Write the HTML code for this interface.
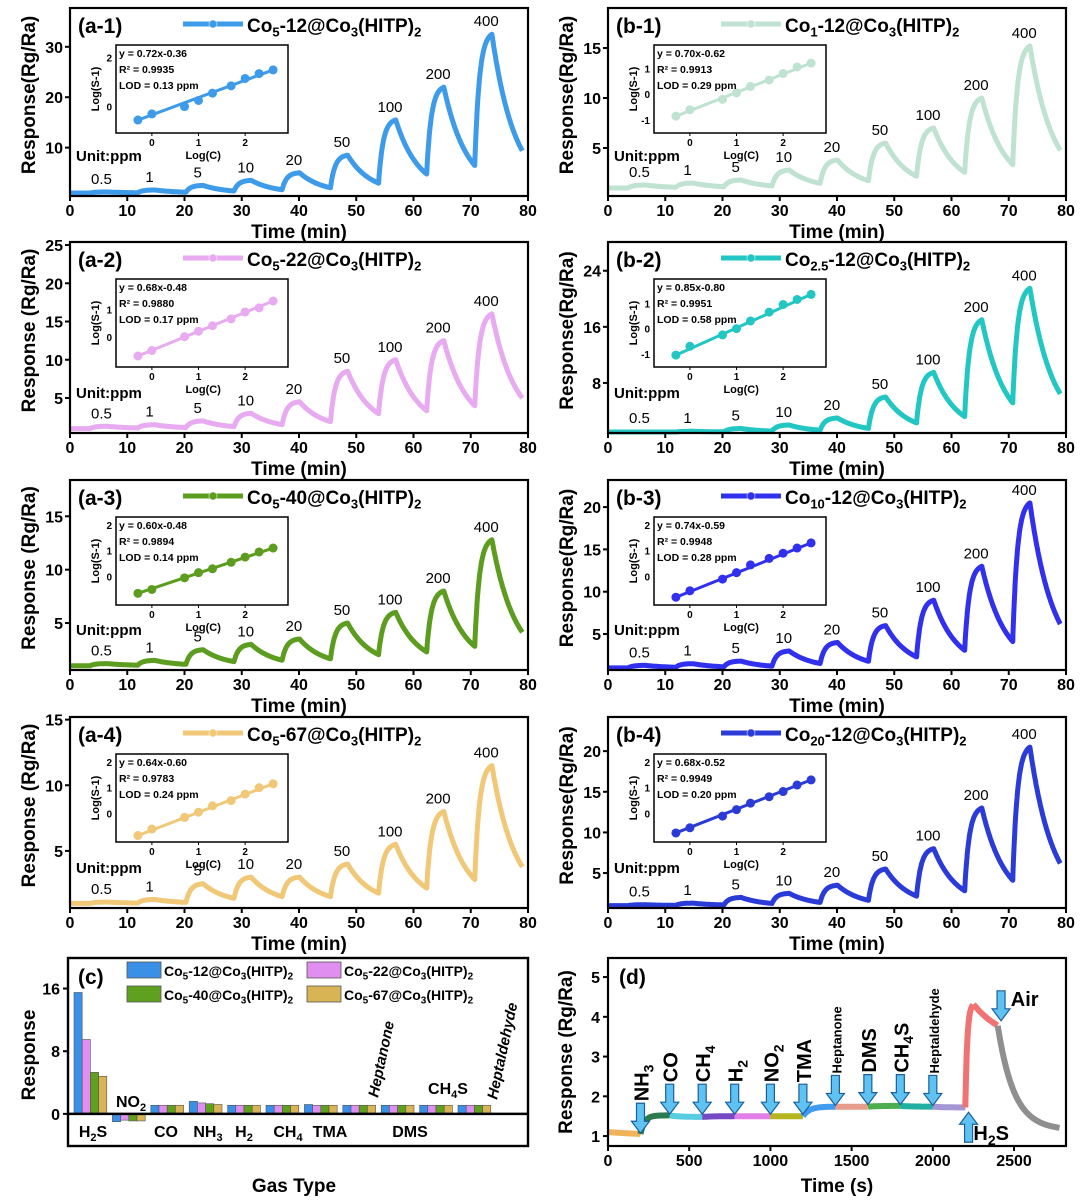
<!DOCTYPE html>
<html><head><meta charset="utf-8"><style>
html,body{margin:0;padding:0;background:#fff}
svg{display:block}
text{font-family:"Liberation Sans",Arial,sans-serif;font-weight:bold;fill:#000}
</style></head>
<body>
<svg id="fig" width="1080" height="1200" viewBox="0 0 1080 1200" xmlns="http://www.w3.org/2000/svg"></svg>
<script>
// ---------- data ----------
const concLabels = ["0.5","1","5","10","20","50","100","200","400"];
const logC = [-0.3, 0, 0.7, 1, 1.3, 1.7, 2, 2.3, 2.6];
const peaksA1 = [1.2,1.6,2.5,3.5,5,8.5,15.5,22,32.5];
const peaksB1 = [1.3,1.5,1.8,2.8,3.8,5.5,7,10,15.2];
const peaksA2 = [1.3,1.5,2,3,4.5,8.5,10,12.5,16];
const peaksB2 = [1.0,1.1,1.5,2,3,6,9.5,17,21.5];
const peaksA3 = [1.2,1.5,2.5,3,3.5,5,6,8,12.8];
const peaksB3 = [1.3,1.5,1.8,3,4,6,9,13,20.5];
const peaksA4 = [1.1,1.3,2.5,3,3,4,5.5,8,11.5];
const peaksB4 = [1.1,1.3,2,2.5,3.5,5.5,8,13,20.5];
const logSA1 = [-0.55,-0.3,0,0.25,0.55,0.85,1.15,1.35,1.5];
const logSB1 = [-0.85,-0.6,-0.2,0.05,0.3,0.55,0.8,1.05,1.2];
const logSA2 = [-0.7,-0.5,0,0.2,0.4,0.65,0.9,1.05,1.3];
const logSB2 = [-1.05,-0.7,-0.25,0,0.3,0.65,0.95,1.15,1.35];
const logSA3 = [-0.65,-0.5,-0.05,0.15,0.3,0.55,0.75,0.95,1.1];
const logSB3 = [-0.8,-0.55,-0.1,0.15,0.45,0.7,0.9,1.1,1.3];
const logSA4 = [-0.85,-0.6,-0.15,0.05,0.3,0.5,0.75,1.0,1.15];
const logSB4 = [-0.75,-0.55,-0.1,0.15,0.4,0.65,0.85,1.1,1.3];

const gasNames = ["H2S","NO2","CO","NH3","H2","CH4","TMA","Heptanone","DMS","CH4S","Heptaldehyde"];
const barCo12 = [15.5,-1.0,1.1,1.6,1.1,1.1,1.2,1.1,1.1,1.1,1.1];
const barCo22 = [9.5,-0.8,1.1,1.4,1.1,1.1,1.1,1.1,1.1,1.1,1.1];
const barCo40 = [5.3,-0.9,1.1,1.3,1.1,1.1,1.1,1.1,1.1,1.1,1.1];
const barCo67 = [4.8,-0.9,1.1,1.2,1.1,1.1,1.1,1.1,1.1,1.1,1.1];
const barTicks = [0,8,16];

const segNames = ["air","NH3","CO","CH4","H2","NO2","TMA","Heptanone","DMS","CH4S","Heptaldehyde","H2S","H2S-b","Air"];
const segStart = [0,200,380,580,780,1000,1200,1400,1600,1800,2000,2200,2250,2400];
const segTarget = [0.98,1.52,1.48,1.5,1.5,1.5,1.74,1.74,1.76,1.74,1.72,4.35,3.3,1.15];
const segTau = [400,25,60,60,60,60,40,60,60,60,60,12,200,100];
const dTicksX = [0,500,1000,1500,2000,2500];
const dTicksY = [1,2,3,4,5];
const arrowTimes = [200,380,580,780,1000,1200,1400,1600,1800,2000];
const arrowNames = ["NH3","CO","CH4","H2","NO2","TMA","Heptanone","DMS","CH4S","Heptaldehyde"];

// ---------- helpers ----------
const NS="http://www.w3.org/2000/svg";
const svg=document.getElementById('fig');
function el(tag,parent){const e=document.createElementNS(NS,tag);(parent||svg).appendChild(e);return e;}
function sa(e,o){for(const k in o)e.setAttribute(k,o[k]);return e;}
// rich text: parts [text, sub?]
function rich(e,str,subSize){
  // str uses _x_ for subscripts
  const re=/_([^_]+)_/g;let last=0,m;let shift=0;
  while((m=re.exec(str))){
    if(m.index>last){const t=el('tspan',e);t.textContent=str.slice(last,m.index);if(shift){t.setAttribute('dy',-shift);shift=0;}}
    const s=el('tspan',e);s.textContent=m[1];s.setAttribute('font-size',subSize);s.setAttribute('dy',subSize*0.35);shift=subSize*0.35;
    last=re.lastIndex;
  }
  if(last<str.length){const t=el('tspan',e);t.textContent=str.slice(last);if(shift)t.setAttribute('dy',-shift);}
}

// ---------- response panels ----------
const colA=[70,528], colB=[608,1066];
const rows=[[8,196],[242,433],[480,670],[717,908]];
const panels=[
 {id:'a-1',x:colA,y:rows[0],ymin:0.4,ymax:37.7,yt:[10,20,30],col:'#3d9be9',title:'Co_5_-12@Co_3_(HITP)_2_',peaks:peaksA1,ls:logSA1,eq:'y = 0.72x-0.36',r2:'0.9935',lod:'0.13',ir:[-1.08,2.52],it:[0,2],yl:'Response(Rg/Ra)'},
 {id:'b-1',x:colB,y:rows[0],ymin:0.2,ymax:19,yt:[5,10,15],col:'#bfe3d0',title:'Co_1_-12@Co_3_(HITP)_2_',peaks:peaksB1,ls:logSB1,eq:'y = 0.70x-0.62',r2:'0.9913',lod:'0.29',ir:[-1.5,1.9],it:[-1,0,1],yl:'Response(Rg/Ra)'},
 {id:'a-2',x:colA,y:rows[1],ymin:0.42,ymax:25.4,yt:[5,10,15,20,25],col:'#e8aaf0',title:'Co_5_-22@Co_3_(HITP)_2_',peaks:peaksA2,ls:logSA2,eq:'y = 0.68x-0.48',r2:'0.9880',lod:'0.17',ir:[-1.1,2.1],it:[0,1],yl:'Response (Rg/Ra)'},
 {id:'b-2',x:colB,y:rows[1],ymin:0.86,ymax:28.1,yt:[8,16,24],col:'#22c6c2',title:'Co_2.5_-12@Co_3_(HITP)_2_',peaks:peaksB2,ls:logSB2,eq:'y = 0.85x-0.80',r2:'0.9951',lod:'0.58',ir:[-1.52,1.96],it:[-1,0,1],yl:'Response(Rg/Ra)'},
 {id:'a-3',x:colA,y:rows[2],ymin:0.6,ymax:18.4,yt:[5,10,15],col:'#5c9d1f',title:'Co_5_-40@Co_3_(HITP)_2_',peaks:peaksA3,ls:logSA3,eq:'y = 0.60x-0.48',r2:'0.9894',lod:'0.14',ir:[-1.1,2.3],it:[0,1,2],yl:'Response (Rg/Ra)'},
 {id:'b-3',x:colB,y:rows[2],ymin:0.75,ymax:23.2,yt:[5,10,15,20],col:'#3030ee',title:'Co_10_-12@Co_3_(HITP)_2_',peaks:peaksB3,ls:logSB3,eq:'y = 0.74x-0.59',r2:'0.9948',lod:'0.28',ir:[-1.1,2.3],it:[0,1,2],yl:'Response(Rg/Ra)'},
 {id:'a-4',x:colA,y:rows[3],ymin:0.65,ymax:15.2,yt:[5,10,15],col:'#f0c878',title:'Co_5_-67@Co_3_(HITP)_2_',peaks:peaksA4,ls:logSA4,eq:'y = 0.64x-0.60',r2:'0.9783',lod:'0.24',ir:[-1.1,2.3],it:[0,1,2],yl:'Response (Rg/Ra)'},
 {id:'b-4',x:colB,y:rows[3],ymin:0.7,ymax:24.2,yt:[5,10,15,20],col:'#2b3bd8',title:'Co_20_-12@Co_3_(HITP)_2_',peaks:peaksB4,ls:logSB4,eq:'y = 0.68x-0.52',r2:'0.9949',lod:'0.20',ir:[-1.1,2.3],it:[0,1,2],yl:'Response(Rg/Ra)'}
];

function simulate(peaks){
  const pts=[];let v=1,t=0,dt=0.05,v0=1,cur=-1;
  for(t=0;t<=79;t+=dt){
    const i=Math.floor((t-3.5)/8.4);const ton=3.5+8.4*i;
    let target=1,tau=4;
    if(i>=0&&i<peaks.length&&t-ton<3){
      if(cur!==i){cur=i;v0=v;}
      target=v0+(peaks[i]-v0)/(1-Math.exp(-3/0.8));tau=0.8;
    }
    v+=(target-v)*(1-Math.exp(-dt/tau));
    pts.push([t,v]);
  }
  return pts;
}

panels.forEach(p=>{
  const g=el('g');
  
  
  const [x0,x1]=p.x,[y0,y1]=p.y;
  const X=t=>x0+t/80*(x1-x0);
  const Y=v=>y1-(v-p.ymin)/(p.ymax-p.ymin)*(y1-y0);
  // curve
  const pts=simulate(p.peaks);
  const line=el('polyline',g);
  
  
  sa(line,{points:pts.map(q=>X(q[0]).toFixed(1)+','+Y(q[1]).toFixed(1)).join(' '),fill:'none',stroke:p.col,'stroke-width':5,'stroke-linejoin':'round'});
  // frame
  const fr=el('rect',g);
  
  
  sa(fr,{x:x0,y:y0,width:x1-x0,height:y1-y0,fill:'none',stroke:'#000','stroke-width':2.2});
  // x ticks
  for(let t=0;t<=80;t+=10){
    const tk=el('line',g);sa(tk,{x1:X(t),x2:X(t),y1:y1,y2:y1+5,stroke:'#000','stroke-width':2});
    const lb=el('text',g);
    
    
    sa(lb,{x:X(t),y:y1+20,'text-anchor':'middle','font-size':16});lb.textContent=t;
  }
  const xt=el('text',g);
  
  
  sa(xt,{x:(x0+x1)/2,y:y1+42,'text-anchor':'middle','font-size':19});xt.textContent='Time (min)';
  // y ticks
  p.yt.forEach(v=>{
    const tk=el('line',g);sa(tk,{x1:x0-5,x2:x0,y1:Y(v),y2:Y(v),stroke:'#000','stroke-width':2});
    const lb=el('text',g);
    
    
    sa(lb,{x:x0-7,y:Y(v)+6,'text-anchor':'end','font-size':16});lb.textContent=v;
  });
  const yt=el('text',g);
  
  
  const cy=(y0+y1)/2;
  sa(yt,{x:x0-35,y:cy,'text-anchor':'middle','font-size':19,transform:`rotate(-90 ${x0-35} ${cy})`,dy:0});
  yt.setAttribute('x',x0-35);yt.setAttribute('y',cy+7);yt.setAttribute('transform',`rotate(-90 ${x0-42} ${cy})`);
  yt.textContent=p.yl;
  // panel label
  const pl=el('text',g);
  
  
  sa(pl,{x:x0+8,y:y0+25,'font-size':21});pl.textContent='('+p.id+')';
  // legend
  const lg=el('line',g);
  
  
  sa(lg,{x1:x0+113,x2:x0+173,y1:y0+16,y2:y0+16,stroke:p.col,'stroke-width':5});
  const lm=el('circle',g);sa(lm,{cx:x0+143,cy:y0+16,r:4,fill:p.col,stroke:'#fff','stroke-opacity':0.5});
  const lt=el('text',g);
  
  
  sa(lt,{x:x0+177,y:y0+24,'font-size':19});rich(lt,p.title,13);
  // concentration labels
  p.peaks.forEach((pk,i)=>{
    const tc=3.5+8.4*i+2;
    const lb=el('text',g);
    
    
    sa(lb,{x:X(tc),y:Math.min(Y(pk)-8,y1-10),'text-anchor':'middle','font-size':15,'font-weight':'normal'});
    lb.style.fontWeight='normal';lb.textContent=concLabels[i];
  });
  const up=el('text',g);
  
  
  sa(up,{x:x0+6,y:y1-35,'font-size':15});up.textContent='Unit:ppm';
  // inset
  const ix0=x0+46,iy0=y0+37,iw=172,ih=88,ix1=ix0+iw,iy1=iy0+ih;
  const IX=v=>ix0+(v+0.77)/3.69*iw;
  const IY=v=>iy1-(v-p.ir[0])/(p.ir[1]-p.ir[0])*ih;
  const ib=el('rect',g);
  
  
  sa(ib,{x:ix0,y:iy0,width:iw,height:ih,fill:'#fff',stroke:'#000','stroke-width':1.5});
  const fit=el('line',g);
  
  
  const n=p.ls.length;
  sa(fit,{x1:IX(logC[0]),y1:IY(p.ls[0]),x2:IX(logC[n-1]),y2:IY(p.ls[n-1]),stroke:p.col,'stroke-width':3});
  logC.forEach((c,i)=>{
    const pt=el('circle',g);
    
    
    sa(pt,{cx:IX(c),cy:IY(p.ls[i]),r:4.5,fill:p.col});
  });
  [0,1,2].forEach(v=>{
    const tk=el('line',g);sa(tk,{x1:IX(v),x2:IX(v),y1:iy1,y2:iy1+3,stroke:'#000'});
    const lb=el('text',g);sa(lb,{x:IX(v),y:iy1+13,'text-anchor':'middle','font-size':10});lb.textContent=v;
  });
  p.it.forEach(v=>{
    const lb=el('text',g);sa(lb,{x:ix0-4,y:IY(v)+4,'text-anchor':'end','font-size':10});lb.textContent=v;
  });
  const ilx=el('text',g);
  
  
  sa(ilx,{x:IX(1.1),y:iy1+26,'text-anchor':'middle','font-size':11});ilx.textContent='Log(C)';
  const ily=el('text',g);
  
  
  const lyc=iy0+ih/2;
  sa(ily,{x:ix0-17,y:lyc,'text-anchor':'middle','font-size':11,transform:`rotate(-90 ${ix0-17} ${lyc})`});ily.textContent='Log(S-1)';
  [p.eq,'R² = '+p.r2,'LOD = '+p.lod+' ppm'].forEach((s,k)=>{
    const t=el('text',g);
    
    
    sa(t,{x:ix0+3,y:iy0+12+k*16,'font-size':10.5});t.textContent=s;
  });
});

// ---------- panel c (bars) ----------
(function(){
  const g=el('g');
  
  
  const x0=68,x1=528,y0=958,y1=1146,ymin=-4.1,ymax=19.9;
  const Y=v=>y1-(v-ymin)/(ymax-ymin)*(y1-y0);
  const series=[barCo12,barCo22,barCo40,barCo67];
  const cols=['#3a8fe6','#e08ef0','#5fa01e','#d9b455'];
  const bw=8.2,start=72,step=38.4;
  series.forEach((s,k)=>{
    s.forEach((v,i)=>{
      const r=el('rect',g);
      
      
      const bx=start+i*step+k*bw+2;
      sa(r,{x:bx,y:Math.min(Y(v),Y(0)),width:bw,height:Math.abs(Y(v)-Y(0)),fill:cols[k],stroke:'#555','stroke-width':0.6});
    });
  });
  const fr=el('rect',g);
  
  
  sa(fr,{x:x0,y:y0,width:x1-x0,height:y1-y0,fill:'none',stroke:'#000','stroke-width':2.4});
  const zl=el('line',g);sa(zl,{x1:x0,x2:x1,y1:Y(0),y2:Y(0),stroke:'#000','stroke-width':2.4});
  barTicks.forEach(v=>{
    const tk=el('line',g);sa(tk,{x1:x0-5,x2:x0,y1:Y(v),y2:Y(v),stroke:'#000','stroke-width':2});
    const lb=el('text',g);
    
    
    sa(lb,{x:x0-8,y:Y(v)+6,'text-anchor':'end','font-size':16});lb.textContent=v;
  });
  const yt=el('text',g);
  
  
  sa(yt,{x:35,y:1055,'text-anchor':'middle','font-size':19,transform:'rotate(-90 35 1055)'});yt.textContent='Response';
  const xt=el('text',g);
  
  
  sa(xt,{x:294,y:1192,'text-anchor':'middle','font-size':19});xt.textContent='Gas Type';
  const pl=el('text',g);
  
  
  sa(pl,{x:78,y:984,'font-size':21});pl.textContent='(c)';
  // gas labels
  const lab=[['H_2_S',93,1137,0],['NO_2_',131,1107,0],['CO',166,1137,0],['NH_3_',208,1137,0],['H_2_',244,1137,0],['CH_4_',288,1137,0],['TMA',330,1137,0],['DMS',410,1137,0],['CH_4_S',448,1094,0]];
  lab.forEach(a=>{
    const t=el('text',g);
    
    
    sa(t,{x:a[1],y:a[2],'text-anchor':'middle','font-size':16});rich(t,a[0],11);
  });
  [['Heptanone',378,1098],['Heptaldehyde',497,1100]].forEach(a=>{
    const t=el('text',g);
    
    
    sa(t,{x:a[1],y:a[2],'font-size':15,'font-style':'italic',transform:`rotate(-78 ${a[1]} ${a[2]})`});t.textContent=a[0];
  });
  // legend
  const lgn=['Co_5_-12@Co_3_(HITP)_2_','Co_5_-22@Co_3_(HITP)_2_','Co_5_-40@Co_3_(HITP)_2_','Co_5_-67@Co_3_(HITP)_2_'];
  lgn.forEach((s,k)=>{
    const lx=k%2?307:127, ly=k<2?962:986;
    const sw=el('rect',g);
    
    
    sa(sw,{x:lx,y:ly,width:34,height:16,fill:cols[k],stroke:'#555','stroke-width':0.8});
    const t=el('text',g);
    
    
    sa(t,{x:lx+37,y:ly+14,'font-size':14});rich(t,s,10);
  });
})();

// ---------- panel d ----------
(function(){
  const g=el('g');
  
  
  const x0=608,x1=1066,y0=958,y1=1146,xmax=2820,ymin=0.75,ymax=5.48;
  const X=t=>x0+t/xmax*(x1-x0);
  const Y=v=>y1-(v-ymin)/(ymax-ymin)*(y1-y0);
  const cols=['#f0b35a','#2c7a4e','#58cde0','#7548c4','#e27ee8','#b5b520','#3f9bef','#e89d8c','#4cae4f','#1fb0a2','#a596d4','#f07272','#f07272','#8f8f8f'];
  let v=1.1;
  segStart.forEach((s,k)=>{
    const e=k<segStart.length-1?segStart[k+1]:2780;
    const pts=[];
    for(let t=s;t<=e;t+=4){
      pts.push(X(t).toFixed(1)+','+Y(v).toFixed(1));
      v+=(segTarget[k]-v)*(1-Math.exp(-4/segTau[k]));
    }
    const pl=el('polyline',g);
    
    
    sa(pl,{points:pts.join(' '),fill:'none',stroke:cols[k],'stroke-width':6,'stroke-linejoin':'round'});
  });
  const fr=el('rect',g);
  
  
  sa(fr,{x:x0,y:y0,width:x1-x0,height:y1-y0,fill:'none',stroke:'#000','stroke-width':2.2});
  dTicksX.forEach(t=>{
    const tk=el('line',g);sa(tk,{x1:X(t),x2:X(t),y1:y1,y2:y1+5,stroke:'#000','stroke-width':2});
    const lb=el('text',g);
    
    
    sa(lb,{x:X(t),y:y1+20,'text-anchor':'middle','font-size':16});lb.textContent=t;
  });
  dTicksY.forEach(t=>{
    const tk=el('line',g);sa(tk,{x1:x0-5,x2:x0,y1:Y(t),y2:Y(t),stroke:'#000','stroke-width':2});
    const lb=el('text',g);
    
    
    sa(lb,{x:x0-8,y:Y(t)+6,'text-anchor':'end','font-size':16});lb.textContent=t;
  });
  const xt=el('text',g);
  
  
  sa(xt,{x:837,y:1192,'text-anchor':'middle','font-size':19});xt.textContent='Time (s)';
  const yt=el('text',g);
  
  
  sa(yt,{x:572,y:1052,'text-anchor':'middle','font-size':19,transform:'rotate(-90 572 1052)'});yt.textContent='Response (Rg/Ra)';
  const pl=el('text',g);
  
  
  sa(pl,{x:619,y:984,'font-size':21});pl.textContent='(d)';
  function arrow(cx,tip,dir,name){
    const a=el('polygon',g);
    
    
    const L=30*dir,h=12*dir;
    const pts=[[cx-4,tip-L],[cx+4,tip-L],[cx+4,tip-h],[cx+9,tip-h],[cx,tip],[cx-9,tip-h],[cx-4,tip-h]];
    sa(a,{points:pts.map(q=>q.join(',')).join(' '),fill:'#5ec3f2',stroke:'#1b5f9a','stroke-width':1.2});
  }
  const levels=[1.02,1.5,1.5,1.5,1.5,1.5,1.72,1.74,1.74,1.72];
  arrowTimes.forEach((t,i)=>{
    const tip=Y(levels[i])-2;
    arrow(X(t),tip,1,'arrow-'+arrowNames[i]);
    const lb=el('text',g);
    
    
    const small=(arrowNames[i].length>5);
    const tx=X(t)+(small?6:8),ty=tip-32;
    sa(lb,{x:tx,y:ty,'font-size':small?13:20,transform:`rotate(-90 ${tx} ${ty})`});
    rich(lb,arrowNames[i].replace('NH3','NH_3_').replace('CH4S','CH_4_S').replace('CH4','CH_4_').replace('H2','H_2_').replace('NO2','NO_2_'),14);
  });
  arrow(X(2220),Y(1.7)+4,-1,'arrow-H2S');
  const h=el('text',g);
  
  
  sa(h,{x:X(2250),y:1140,'font-size':20});rich(h,'H_2_S',14);
  arrow(X(2420),Y(3.9),1,'arrow-air');
  const ai=el('text',g);
  
  
  sa(ai,{x:X(2480),y:1006,'font-size':20});ai.textContent='Air';
})();
</script>
</body></html>
